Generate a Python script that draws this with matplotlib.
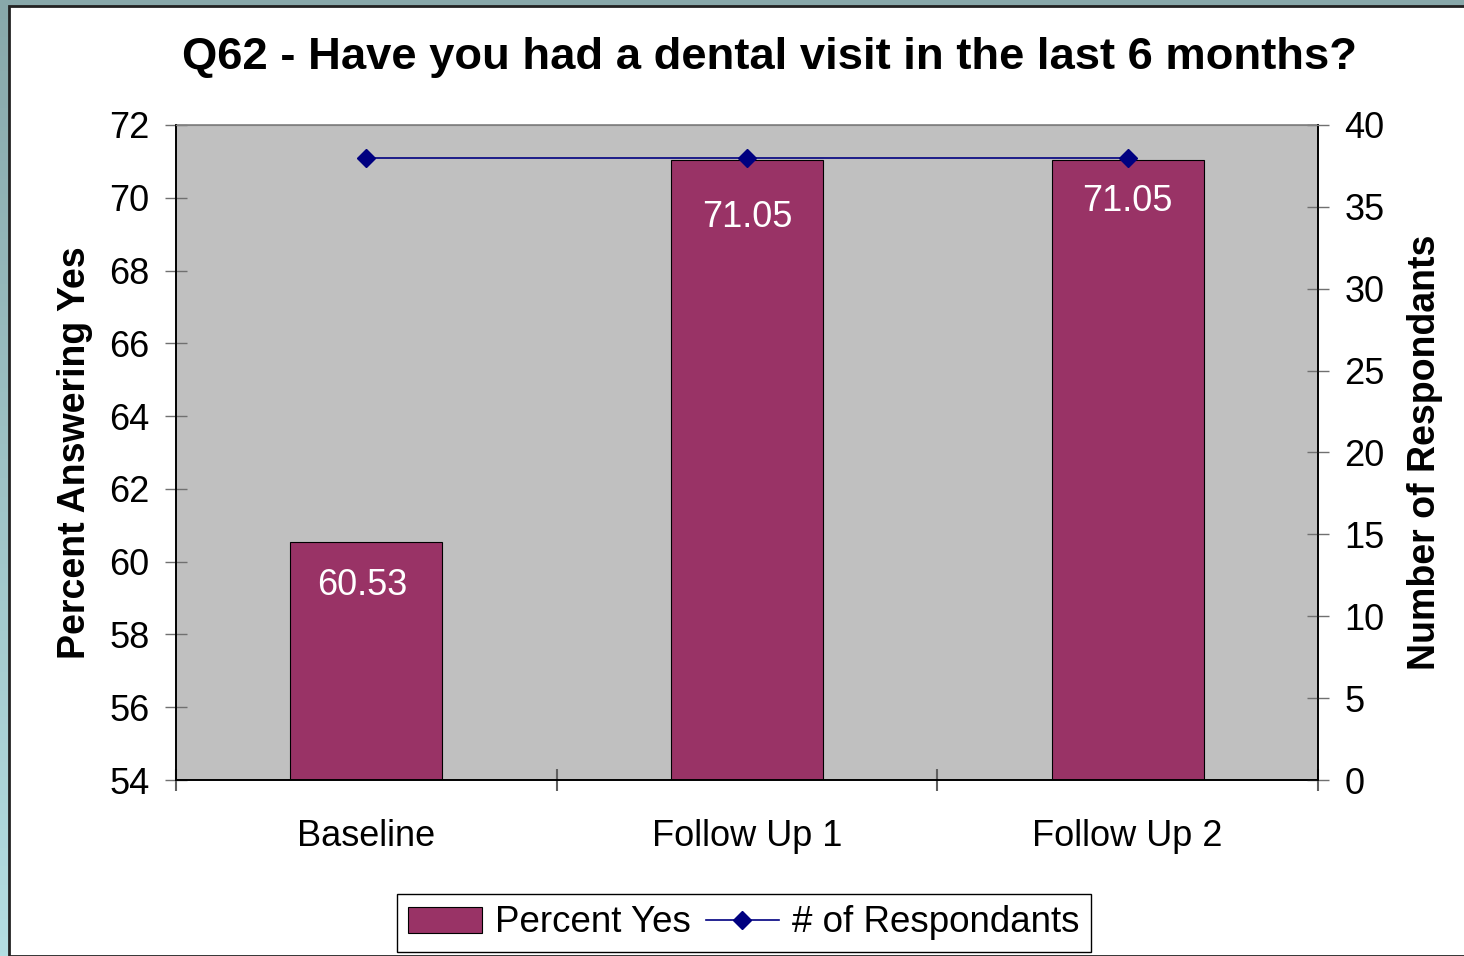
import matplotlib
matplotlib.use("Agg")
import matplotlib.pyplot as plt
import numpy as np
from matplotlib.patches import Rectangle, Patch
from matplotlib.lines import Line2D

plt.rcParams['font.family'] = ['Liberation Sans', 'DejaVu Sans']

categories = ["Baseline", "Follow Up 1", "Follow Up 2"]
percent_yes = [60.53, 71.05, 71.05]
respondents = [38, 38, 38]
left_ticks = [54, 56, 58, 60, 62, 64, 66, 68, 70, 72]
right_ticks = [0, 5, 10, 15, 20, 25, 30, 35, 40]
title = "Q62 - Have you had a dental visit in the last 6 months?"

W, H = 1464, 956
fig = plt.figure(figsize=(W / 100, H / 100), dpi=100)

# background frame (gradient teal) + white panel
bg = fig.add_axes([0, 0, 1, 1], zorder=-10)
grad = np.linspace(0, 1, 256).reshape(-1, 1)
c_top = np.array([0x88, 0xA8, 0xAA]) / 255
c_bot = np.array([0xB4, 0xDE, 0xE2]) / 255
img = c_top[None, None, :] * (1 - grad[:, :, None]) + c_bot[None, None, :] * grad[:, :, None]
bg.imshow(img, aspect='auto', extent=[0, 1, 0, 1], origin='upper')
bg.add_patch(Rectangle((9 / W, 0), 1, 1 - 6 / H, facecolor='white',
                       edgecolor='#222222', linewidth=2))
bg.set_xlim(0, 1)
bg.set_ylim(0, 1)
bg.axis('off')

ax = fig.add_axes([176 / W, 1 - 780 / H, (1318 - 176) / W, (780 - 125) / H])
ax.set_facecolor('#C0C0C0')
x = np.arange(len(categories))
bars = ax.bar(x, percent_yes, width=0.4, color='#993366', edgecolor='black',
              linewidth=0.8, zorder=2)
ax.set_xlim(-0.5, len(categories) - 0.5)
ax.set_ylim(54, 72)
ax.set_yticks(left_ticks)
ax.tick_params(axis='y', direction='inout', length=16, width=1, color='#707070',
               labelsize=26, pad=11)
ax.set_xticks(np.arange(len(categories) + 1) - 0.5)
ax.set_xticklabels([])
ax.set_xticks(x, minor=True)
ax.set_xticklabels(categories, minor=True, fontsize=26)
ax.tick_params(axis='x', which='major', direction='inout', length=16, width=1.5,
               color='#606060')
ax.tick_params(axis='x', which='minor', length=0, pad=28)
for s in ['left', 'bottom', 'right']:
    ax.spines[s].set_color('black')
    ax.spines[s].set_linewidth(1.2)
ax.spines['top'].set_color('#808080')
ax.spines['top'].set_linewidth(1.2)
ax.set_ylabel("Percent Answering Yes", fontsize=27, fontweight='bold', labelpad=12)

label_offsets = [-43, -58, -42]
for xi, v, off in zip(x, percent_yes, label_offsets):
    ax.annotate(f"{v:.2f}", (xi, v), xytext=(-3 if xi == 0 else 0, off * 0.72),
                textcoords='offset points',
                ha='center', va='center', color='white', fontsize=26)

ax2 = ax.twinx()
ax2.plot(x, respondents, color='#000080', linewidth=1.2, marker='D', markersize=9,
         markerfacecolor='#000080', markeredgecolor='#000080', zorder=3)
ax2.set_ylim(0, 40)
ax2.set_yticks(right_ticks)
ax2.tick_params(axis='y', direction='inout', length=16, width=1, color='#707070',
                labelsize=26, pad=11)
for s in ['left', 'bottom', 'right']:
    ax2.spines[s].set_color('black')
    ax2.spines[s].set_linewidth(1.2)
ax2.spines['top'].set_color('#808080')
ax2.set_ylabel("Number of Respondants", fontsize=27, fontweight='bold', labelpad=16)

fig.text(770 / W, 1 - 57 / H, title, ha='center', va='center', fontsize=32.7,
         fontweight='bold')

handles = [Patch(facecolor='#993366', edgecolor='black', linewidth=0.8),
           Line2D([], [], color='#000080', marker='D', markersize=9, linewidth=1.2)]
leg = fig.legend(handles, ["Percent Yes", "# of Respondants"], loc='center',
                 bbox_to_anchor=(744 / W, 1 - 923 / H), ncol=2, fontsize=26.5,
                 frameon=True, fancybox=False, edgecolor='black', framealpha=1,
                 handlelength=2.0, handletextpad=0.35, columnspacing=0.4,
                 borderpad=0.32, borderaxespad=0)
leg.get_frame().set_linewidth(1)

fig.savefig("out.png", dpi=100)
